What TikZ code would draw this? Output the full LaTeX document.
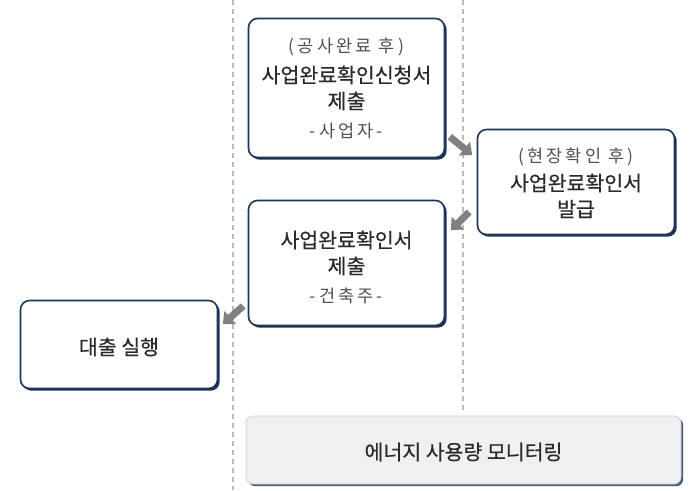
\documentclass[tikz,border=0pt]{standalone}
\usepackage{fontspec}
\setmainfont{Noto Sans CJK KR}
\newfontfamily\krmain[FakeBold=0.5]{Noto Sans CJK KR}
\newfontfamily\krsub[LetterSpace=18]{Noto Sans CJK KR}
\usetikzlibrary{shadows,arrows.meta,calc}
\definecolor{navy}{HTML}{1F3556}
\definecolor{maintxt}{HTML}{2A2A2A}
\definecolor{subtxt}{HTML}{505050}
\definecolor{arrgray}{HTML}{808080}
\definecolor{dashgray}{HTML}{BBBBBB}
\tikzset{
  stepbox/.style={draw=navy, line width=1.6pt, rounded corners=9pt, fill=white,
    drop shadow={shadow xshift=2.2pt, shadow yshift=-2.2pt, fill=navy, opacity=1},
    inner sep=0pt},
  monbox/.style={draw=black!18, line width=0.8pt, rounded corners=7pt, fill=black!6,
    drop shadow={shadow xshift=2.2pt, shadow yshift=-2.2pt, fill=navy!80, opacity=1},
    inner sep=0pt},
  maintext/.style={text=maintxt, font=\krmain\fontsize{20.5}{22}\selectfont, inner sep=0pt},
  subtext/.style={text=subtxt, font=\krsub\fontsize{17.5}{19}\selectfont, inner sep=0pt},
  flow/.style={draw=arrgray, line width=7pt, -{Triangle[length=10pt,width=17pt]}},
  lane/.style={draw=dashgray, line width=1.1pt, dash pattern=on 5pt off 4pt}
}
\begin{document}
\begin{tikzpicture}[x=1pt,y=-1pt]
\useasboundingbox (0,0) rectangle (698,490);
\fill[white] (0,0) rectangle (698,490);
% lanes
\coordinate (l1t) at (233,0); \coordinate (l1b) at (233,490);
\coordinate (l2t) at (463,0); \coordinate (l2b) at (463,414);
\draw[lane] (l1t) -- (l1b);
\draw[lane] (l2t) -- (l2b);
% boxes
\node[stepbox, minimum width=196pt, minimum height=139pt] (b1) at (346.5,88) {};
\node[stepbox, minimum width=197pt, minimum height=105pt] (b2) at (576,182) {};
\node[stepbox, minimum width=196pt, minimum height=125pt] (b3) at (346.5,263) {};
\node[stepbox, minimum width=197pt, minimum height=88pt] (b4) at (119,344.5) {};
\node[monbox, minimum width=435pt, minimum height=68pt] (b5) at (463.5,450) {};
% texts
\node[subtext] (t1a) at (346.5,47) {(공사완료 후)};
\node[maintext] (t1b) at (346.5,75) {사업완료확인신청서};
\node[maintext] (t1c) at (346.5,101) {제출};
\node[subtext] (t1d) at (346.5,131) {-사업자-};
\node[subtext] (t2a) at (576,157) {(현장확인 후)};
\node[maintext] (t2b) at (576,183) {사업완료확인서};
\node[maintext] (t2c) at (576,209) {발급};
\node[maintext] (t3a) at (346.5,240) {사업완료확인서};
\node[maintext] (t3b) at (346.5,266) {제출};
\node[subtext] (t3c) at (346.5,296) {-건축주-};
\node[maintext] (t4a) at (119,347) {대출 실행};
\node[maintext] (t5a) at (463.5,452) {에너지 사용량 모니터링};
% arrows
\draw[flow] ($(b1.south east)+(4.5,-21.5)$) -- ($(b2.west)+(-4.5,-27)$);
\draw[flow] ($(b2.west)+(-7.5,30)$) -- ($(b3.north east)+(5.5,30.5)$);
\draw[flow] ($(b3.west)+(-4.5,43)$) -- ($(b4.north east)+(4.5,24.5)$);
\end{tikzpicture}
\end{document}
